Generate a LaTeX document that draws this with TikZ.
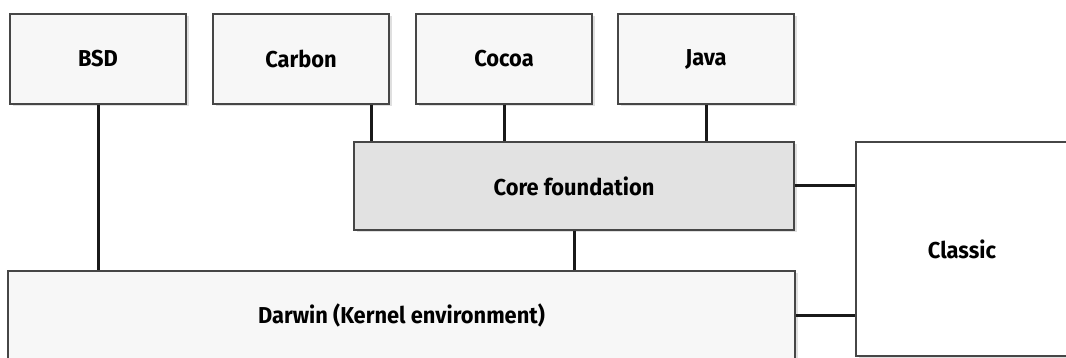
\documentclass[tikz,border=0pt]{standalone}
\usepackage{fontspec}
\setmainfont{Fira Sans}[FakeStretch=0.95]
\usetikzlibrary{shadows}

\definecolor{boxline}{RGB}{70,70,70}
\definecolor{lightfill}{RGB}{247,247,247}
\definecolor{corefill}{RGB}{226,226,226}

\tikzset{
  layer/.style={draw=boxline, line width=1.5pt, fill=lightfill, inner sep=0pt,
    font=\bfseries\fontsize{23}{26}\selectfont,
    drop shadow={shadow xshift=2.5pt, shadow yshift=-2.5pt, opacity=0.25}},
  api/.style={layer, minimum width=176pt, minimum height=90pt},
  wire/.style={line width=3pt, draw=black!90},
}

\begin{document}
\begin{tikzpicture}[x=1pt, y=-1pt]
  \useasboundingbox (0,0) rectangle (1066,358);
  \clip (0,0) rectangle (1066,358);

  % application layers
  \node[api] (bsd)    at (98,59)  {BSD};
  \node[api] (carbon) at (301,59) {Carbon};
  \node[api] (cocoa)  at (504,59) {Cocoa};
  \node[api] (java)   at (706,59) {Java};

  % shared layers
  \node[layer, fill=corefill, minimum width=440pt, minimum height=88pt] (core) at (574,186) {Core foundation};
  \node[layer, minimum width=787pt, minimum height=89pt] (darwin) at (401.5,315.5) {Darwin (Kernel environment)};
  \node[layer, fill=white, drop shadow={opacity=0}, line width=1.2pt,
        minimum width=212pt, minimum height=214pt] (classic) at (962,249) {Classic};

  % connections
  \draw[wire] (bsd.south) -- (bsd.south |- darwin.north);
  \draw[wire] ([xshift=70pt]carbon.south) -- ([xshift=70pt]carbon.south |- core.north);
  \draw[wire] (cocoa.south) -- (cocoa.south |- core.north);
  \draw[wire] (java.south) -- (java.south |- core.north);
  \draw[wire] (core.south) -- (core.south |- darwin.north);
  \draw[wire] (core.east) -- (core.east -| classic.west);
  \draw[wire] (darwin.east) -- (darwin.east -| classic.west);
\end{tikzpicture}
\end{document}
